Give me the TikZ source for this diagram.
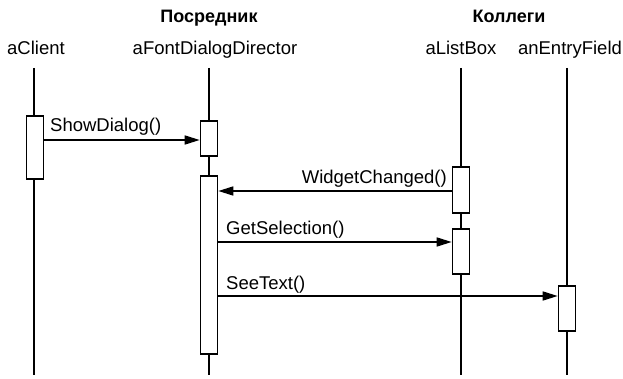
\documentclass[tikz,border=0pt]{standalone}
\usepackage{fontspec}
\setmainfont{Liberation Sans}
\usetikzlibrary{arrows.meta}
\begin{document}
\begin{tikzpicture}[x=1pt,y=-1pt,
  lbl/.style={font=\fontsize{18.5}{21}\selectfont, inner sep=0pt, anchor=base},
  grp/.style={font=\fontsize{18}{21}\selectfont\bfseries, inner sep=0pt, anchor=base},
  life/.style={line width=1.6pt},
  act/.style={draw, fill=white, line width=1.6pt, minimum width=17pt, inner sep=0pt},
  msg/.style={line width=1.6pt, -{Triangle[length=15pt,width=9pt]}},
  msglbl/.style={font=\fontsize{18.5}{21}\selectfont, inner sep=0pt}]
\useasboundingbox (0,0) rectangle (623,379);
% group headings
\node[grp] (gmed) at (209,23) {Посредник};
\node[grp] (gcol) at (509,23) {Коллеги};
% object names
\node[lbl] (hc) at (36,55) {aClient};
\node[lbl] (hd) at (215,55) {aFontDialogDirector};
\node[lbl] (hl) at (461,55) {aListBox};
\node[lbl] (he) at (570,55) {anEntryField};
% lifeline ends
\coordinate (tc) at (34,68);  \coordinate (bc) at (34,375);
\coordinate (td) at (209,68); \coordinate (bd) at (209,375);
\coordinate (tl) at (461,68); \coordinate (bl) at (461,375);
\coordinate (te) at (567,68); \coordinate (be) at (567,375);
\draw[life] (tc) -- (bc);
\draw[life] (td) -- (bd);
\draw[life] (tl) -- (bl);
\draw[life] (te) -- (be);
% activation boxes
\node[act, minimum height=63pt] (ac) at (35,147.5) {};
\node[act, minimum height=35pt] (ad1) at (209,138.5) {};
\node[act, minimum height=178pt] (ad2) at (209,265) {};
\node[act, minimum height=46pt] (al1) at (461,190) {};
\node[act, minimum height=45pt] (al2) at (461,251.5) {};
\node[act, minimum height=45pt] (ae) at (567,308.5) {};
% message rows
\coordinate (m1) at (0,140);
\coordinate (m2) at (0,191);
\coordinate (m3) at (0,242);
\coordinate (m4) at (0,296);
\draw[msg] (ac.east |- m1) -- (ad1.west |- m1);
\draw[msg] (al1.west |- m2) -- (ad2.east |- m2);
\draw[msg] (ad2.east |- m3) -- (al2.west |- m3);
\draw[msg] (ad2.east |- m4) -- (ae.west |- m4);
% message labels
\node[msglbl, anchor=base west] (t1) at (50,132) {ShowDialog()};
\node[msglbl, anchor=base east] (t2) at (447,184) {WidgetChanged()};
\node[msglbl, anchor=base west] (t3) at (226,235) {GetSelection()};
\node[msglbl, anchor=base west] (t4) at (226,289) {SeeText()};
\end{tikzpicture}
\end{document}
